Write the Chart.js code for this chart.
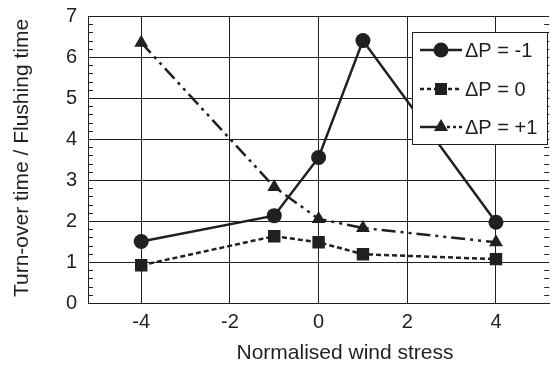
<!DOCTYPE html>
<html>
<head>
<meta charset="utf-8">
<script src="https://cdn.jsdelivr.net/npm/chart.js@4.4.1/dist/chart.umd.min.js"></script>
<style>
  html, body { margin: 0; padding: 0; overflow: hidden; background: #fff; }
  #wrap { width: 558px; height: 365px; }
</style>
</head>
<body>
<div id="wrap"><canvas id="chart"></canvas></div>
<script>
// values
const windStress = [-4, -1, 0, 1, 4];
const dpMinus1 = [1.5, 2.13, 3.55, 6.4, 1.97];
const dpZero = [0.92, 1.63, 1.48, 1.19, 1.07];
const dpPlus1 = [6.35, 2.83, 2.05, 1.83, 1.48];
const xTicks = [-4, -2, 0, 2, 4];
const yTicks = [0, 1, 2, 3, 4, 5, 6, 7];
const seriesNames = ["\u0394P = -1", "\u0394P = 0", "\u0394P = +1"];
const xTitle = "Normalised wind stress";
const yTitle = "Turn-over time / Flushing time";

const ink = "#231f20";
const fontFamily = "'Liberation Sans', Arial, Helvetica, sans-serif";
const dashZero = [5, 3];
const dashPlus = [14, 5, 3, 5, 3, 5];

function points(ys) {
    return windStress.map(function (x, i) { return { x: x, y: ys[i] }; });
}

// minor ticks on the left and right edges, every 0.2
const minorTicks = {
    id: "minorTicks",
    afterDraw: function (chart) {
        const ctx = chart.ctx;
        const area = chart.chartArea;
        const y = chart.scales.y;
        ctx.save();
        ctx.strokeStyle = ink;
        ctx.lineWidth = 1;
        ctx.beginPath();
        for (let i = 1; i < 35; i++) {
            if (i % 5 === 0) continue;
            const py = Math.round(y.getPixelForValue(i * 0.2)) + 0.5;
            ctx.moveTo(area.left, py);
            ctx.lineTo(area.left + 5, py);
            ctx.moveTo(area.right, py);
            ctx.lineTo(area.right - 5, py);
        }
        ctx.stroke();
        ctx.restore();
    }
};

// axis titles, placed where the original has them
const axisTitles = {
    id: "axisTitles",
    afterDraw: function (chart) {
        const ctx = chart.ctx;
        ctx.save();
        ctx.fillStyle = ink;
        ctx.font = "21px " + fontFamily;
        ctx.textAlign = "center";
        ctx.textBaseline = "middle";
        ctx.fillText(xTitle, 345, 353);
        ctx.translate(22, 158);
        ctx.rotate(-Math.PI / 2);
        ctx.fillText(yTitle, 0, 0);
        ctx.restore();
    }
};

// boxed legend in the top right corner
const boxLegend = {
    id: "boxLegend",
    afterDraw: function (chart) {
        const ctx = chart.ctx;
        const bx = 412, by = 32, bw = 135, bh = 112;
        const rows = [50, 89, 127];
        const x0 = 420, x1 = 462, mx = 441;
        ctx.save();
        ctx.fillStyle = "#fff";
        ctx.fillRect(bx, by, bw, bh);
        ctx.strokeStyle = ink;
        ctx.lineWidth = 1;
        ctx.strokeRect(bx + 0.5, by + 0.5, bw, bh);

        ctx.fillStyle = ink;
        ctx.lineWidth = 2.5;

        // row 1: solid + circle
        ctx.setLineDash([]);
        ctx.beginPath();
        ctx.moveTo(x0, rows[0]); ctx.lineTo(x1, rows[0]);
        ctx.stroke();
        ctx.beginPath();
        ctx.arc(mx, rows[0], 7.5, 0, Math.PI * 2);
        ctx.fill();

        // row 2: dashed + square
        ctx.setLineDash([4, 3]);
        ctx.beginPath();
        ctx.moveTo(x0, rows[1]); ctx.lineTo(x1, rows[1]);
        ctx.stroke();
        ctx.fillRect(mx - 6, rows[1] - 6, 12, 12);

        // row 3: dash then dots + triangle
        ctx.setLineDash([]);
        ctx.beginPath();
        ctx.moveTo(x0, rows[2]); ctx.lineTo(mx, rows[2]);
        ctx.stroke();
        ctx.setLineDash([3, 3]);
        ctx.beginPath();
        ctx.moveTo(mx + 6, rows[2]); ctx.lineTo(x1, rows[2]);
        ctx.stroke();
        ctx.setLineDash([]);
        ctx.beginPath();
        ctx.moveTo(mx, rows[2] - 8);
        ctx.lineTo(mx + 7, rows[2] + 4);
        ctx.lineTo(mx - 7, rows[2] + 4);
        ctx.closePath();
        ctx.fill();

        ctx.font = "20px " + fontFamily;
        ctx.textBaseline = "middle";
        ctx.textAlign = "left";
        seriesNames.forEach(function (name, i) {
            ctx.fillText(name, 465, rows[i] + 1);
        });
        ctx.restore();
    }
};

const datasets = [
    {
        label: seriesNames[0],
        data: points(dpMinus1),
        borderColor: ink,
        backgroundColor: ink,
        borderWidth: 2.5,
        pointStyle: "circle",
        pointRadius: 7.5,
        pointBorderWidth: 0,
    },
    {
        label: seriesNames[1],
        data: points(dpZero),
        borderColor: ink,
        backgroundColor: ink,
        borderWidth: 2.5,
        borderDash: dashZero,
        pointStyle: "rect",
        pointRadius: 8.8,
        pointBorderWidth: 0,
    },
    {
        label: seriesNames[2],
        data: points(dpPlus1),
        borderColor: ink,
        backgroundColor: ink,
        borderWidth: 2.5,
        borderDash: dashPlus,
        pointStyle: "triangle",
        pointRadius: 8,
        pointBorderWidth: 0,
    },
];

new Chart(document.getElementById("chart"), {
    type: "scatter",
    data: { datasets: datasets },
    options: {
        responsive: true,
        maintainAspectRatio: false,
        animation: false,
        showLine: true,
        layout: { padding: { top: 16, right: 2, left: 0, bottom: 0 } },
        plugins: {
            legend: { display: false },
            tooltip: { enabled: false },
        },
        scales: {
            x: {
                type: "linear",
                min: -5.2,
                max: 5.2,
                afterBuildTicks: function (scale) {
                    scale.ticks = xTicks.map(function (v) { return { value: v }; });
                },
                afterFit: function (scale) {
                    scale.height = scale.chart.height - 303;
                    scale.paddingLeft = 0;
                    scale.paddingRight = 0;
                },
                grid: { color: ink, lineWidth: 1, drawTicks: false },
                border: { display: true, color: ink, width: 1 },
                ticks: {
                    color: ink,
                    padding: 7,
                    font: { family: fontFamily, size: 20 },
                    maxRotation: 0,
                },
            },
            y: {
                min: 0,
                max: 7,
                afterBuildTicks: function (scale) {
                    scale.ticks = yTicks.map(function (v) { return { value: v }; });
                },
                afterFit: function (scale) {
                    scale.width = 88;
                    scale.paddingTop = 0;
                    scale.paddingBottom = 0;
                },
                grid: { color: ink, lineWidth: 1, drawTicks: false },
                border: { display: true, color: ink, width: 1 },
                ticks: {
                    color: ink,
                    padding: 11,
                    font: { family: fontFamily, size: 20 },
                },
            },
        },
    },
    plugins: [minorTicks, axisTitles, boxLegend],
});
</script>
</body>
</html>
